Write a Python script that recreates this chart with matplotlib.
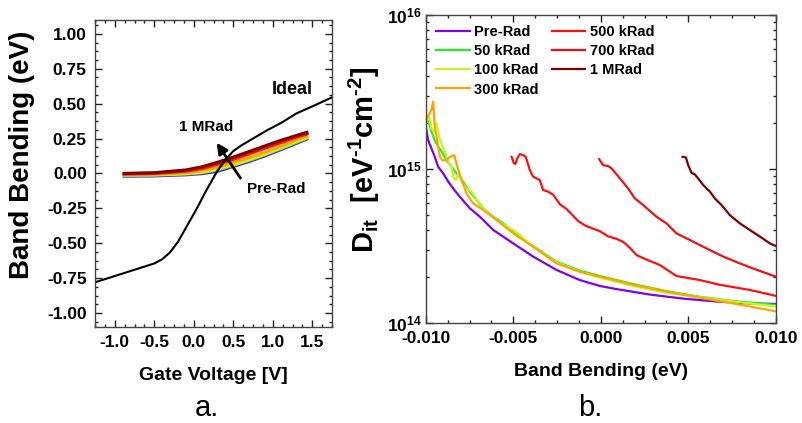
import numpy as np
import matplotlib
matplotlib.use("Agg")
import matplotlib.pyplot as plt
from matplotlib.ticker import MultipleLocator, FixedLocator, FixedFormatter, LogLocator, NullFormatter

plt.rcParams['font.family'] = ['Liberation Sans', 'DejaVu Sans']
plt.rcParams['font.weight'] = 'bold'
plt.rcParams['axes.labelweight'] = 'bold'
plt.rcParams['mathtext.fontset'] = 'custom'
plt.rcParams['mathtext.rm'] = 'Liberation Sans:bold'
plt.rcParams['mathtext.bf'] = 'Liberation Sans:bold'
plt.rcParams['mathtext.default'] = 'bf'

doses = ['Pre-Rad', '50 kRad', '100 kRad', '300 kRad', '500 kRad', '700 kRad', '1 MRad']
colors = ['#8000f0', '#22f022', '#c8f520', '#ffa500', '#ff1010', '#f01010', '#800000']

# --- panel a: band bending vs gate voltage ---
vg = [-0.9, -0.5, -0.1, 0.1, 0.3, 0.5, 0.7, 0.9, 1.1, 1.3, 1.45]
bb = {
    'Pre-Rad':  [-0.020, -0.018, -0.010, -0.002, 0.015, 0.050, 0.085, 0.125, 0.170, 0.215, 0.250],
    '50 kRad':  [-0.015, -0.013, -0.005, 0.005, 0.025, 0.058, 0.093, 0.133, 0.177, 0.222, 0.256],
    '100 kRad': [-0.012, -0.010, -0.002, 0.008, 0.030, 0.063, 0.098, 0.138, 0.182, 0.228, 0.262],
    '300 kRad': [-0.008, -0.005, 0.005, 0.020, 0.045, 0.078, 0.113, 0.152, 0.195, 0.240, 0.272],
    '500 kRad': [-0.004, -0.001, 0.015, 0.035, 0.065, 0.100, 0.140, 0.180, 0.220, 0.260, 0.285],
    '700 kRad': [-0.002, 0.002, 0.020, 0.040, 0.072, 0.108, 0.148, 0.188, 0.228, 0.265, 0.290],
    '1 MRad':   [0.000, 0.005, 0.025, 0.047, 0.080, 0.117, 0.157, 0.197, 0.237, 0.272, 0.298],
}
vg_ideal = [-1.25, -1.0, -0.75, -0.5, -0.4, -0.3, -0.2, -0.1, 0.04, 0.15, 0.3, 0.42, 0.5,
            0.6, 0.75, 0.93, 1.1, 1.3, 1.5, 1.75]
bb_ideal = [-0.78, -0.735, -0.69, -0.645, -0.615, -0.565, -0.49, -0.39, -0.25, -0.13, 0.02,
            0.11, 0.16, 0.2, 0.25, 0.31, 0.36, 0.43, 0.48, 0.545]

# --- panel b: interface trap density vs band bending ---
x_pre = [-0.0100, -0.00987, -0.00968, -0.00949, -0.00930, -0.00901, -0.00872, -0.00844, -0.00806,
         -0.00749, -0.00691, -0.00615, -0.00501, -0.00387, -0.00253, -0.00120, -0.00006, 0.00090,
         0.00280, 0.00470, 0.00661, 0.00851, 0.0100]
d_pre = [1.88e15, 1.54e15, 1.36e15, 1.20e15, 1.035e15, 9.37e14, 8.28e14, 7.48e14, 6.61e14,
         5.56e14, 4.90e14, 4.02e14, 3.29e14, 2.70e14, 2.21e14, 1.90e14, 1.74e14, 1.66e14,
         1.53e14, 1.44e14, 1.38e14, 1.34e14, 1.33e14]

x_50 = [-0.0100, -0.00987, -0.00968, -0.00949, -0.00930, -0.00910, -0.00882, -0.00853, -0.00825,
        -0.00787, -0.00749, -0.00710, -0.00672, -0.00615, -0.00558, -0.00501, -0.00387, -0.00253,
        -0.00120, -0.00006, 0.00185, 0.00375, 0.00566, 0.00756, 0.0100]
d_50 = [2.24e15, 2.08e15, 1.75e15, 1.54e15, 1.40e15, 1.30e15, 1.14e15, 1.035e15, 9.37e14,
        8.28e14, 7.13e14, 6.29e14, 5.56e14, 4.90e14, 4.44e14, 3.92e14, 3.16e14, 2.50e14,
        2.19e14, 2.02e14, 1.79e14, 1.61e14, 1.48e14, 1.39e14, 1.31e14]

x_100 = [-0.0100, -0.00981, -0.00968, -0.00954, -0.00939, -0.00924, -0.00905, -0.00891, -0.00882,
         -0.00867, -0.00853, -0.00844, -0.00829, -0.00815, -0.00796, -0.00768, -0.00739, -0.00720,
         -0.00691, -0.00653, -0.00596, -0.00539, -0.00501, -0.00463, -0.00387, -0.00253, -0.00120,
         -0.00006, 0.00185, 0.00375, 0.00566, 0.00756, 0.0100]
d_100 = [2.03e15, 2.19e15, 1.84e15, 1.75e15, 1.98e15, 1.62e15, 1.40e15, 1.30e15, 1.20e15,
         1.09e15, 1.035e15, 8.91e14, 8.49e14, 9.37e14, 8.28e14, 7.48e14, 7.13e14, 6.61e14,
         5.83e14, 5.28e14, 4.67e14, 4.23e14, 4.02e14, 3.73e14, 3.13e14, 2.47e14, 2.15e14,
         1.97e14, 1.74e14, 1.57e14, 1.47e14, 1.38e14, 1.28e14]

x_300 = [-0.0100, -0.00968, -0.00958, -0.00949, -0.00935, -0.00920, -0.00905, -0.00882, -0.00863,
         -0.00838, -0.00815, -0.00768, -0.00730, -0.00672, -0.00596, -0.00501, -0.00387, -0.00253,
         -0.00120, -0.00006, 0.00185, 0.00375, 0.00566, 0.00756, 0.0100]
d_300 = [2.08e15, 2.42e15, 2.74e15, 1.88e15, 1.54e15, 1.20e15, 1.14e15, 1.14e15, 1.20e15,
         1.23e15, 9.86e14, 6.95e14, 5.98e14, 5.42e14, 4.67e14, 3.82e14, 3.13e14, 2.44e14,
         2.15e14, 2.00e14, 1.77e14, 1.60e14, 1.46e14, 1.34e14, 1.19e14]

x_500 = [-0.00510, -0.00497, -0.00488, -0.00478, -0.00463, -0.00444, -0.00429, -0.00406, -0.00387,
         -0.00349, -0.00330, -0.00301, -0.00272, -0.00234, -0.00196, -0.00168, -0.00130, -0.00091,
         -0.00044, -0.00006, 0.00042, 0.00090, 0.00128, 0.00166, 0.00204, 0.00261, 0.00337,
         0.00432, 0.00566, 0.00680, 0.00851, 0.0100]
d_500 = [1.20e15, 1.09e15, 1.08e15, 1.17e15, 1.25e15, 1.23e15, 1.20e15, 9.86e14, 8.91e14,
         8.49e14, 7.31e14, 7.13e14, 6.80e14, 5.90e14, 5.50e14, 5.10e14, 4.60e14, 4.30e14,
         4.10e14, 3.95e14, 3.65e14, 3.52e14, 3.36e14, 3.08e14, 2.76e14, 2.58e14, 2.38e14,
         2.02e14, 1.90e14, 1.77e14, 1.64e14, 1.50e14]

x_700 = [-0.00010, 0.00013, 0.00042, 0.00061, 0.00109, 0.00156, 0.00194, 0.00242, 0.00318,
         0.00375, 0.00432, 0.00509, 0.00604, 0.00699, 0.00794, 0.00870, 0.0100]
d_700 = [1.16e15, 1.06e15, 1.045e15, 1.01e15, 8.69e14, 7.48e14, 6.45e14, 5.83e14, 4.90e14,
         4.44e14, 3.82e14, 3.46e14, 3.05e14, 2.70e14, 2.44e14, 2.26e14, 2.00e14]

x_1m = [0.00467, 0.00486, 0.00499, 0.00518, 0.00537, 0.00556, 0.00585, 0.00623, 0.00651,
        0.00690, 0.00737, 0.00794, 0.00851, 0.00909, 0.00966, 0.0100]
d_1m = [1.20e15, 1.19e15, 1.06e15, 9.46e14, 9.23e14, 8.69e14, 7.87e14, 7.13e14, 6.45e14,
        5.83e14, 5.02e14, 4.44e14, 4.02e14, 3.64e14, 3.29e14, 3.16e14]

dit_x = [x_pre, x_50, x_100, x_300, x_500, x_700, x_1m]
dit_y = [d_pre, d_50, d_100, d_300, d_500, d_700, d_1m]


def style_axes(ax):
    ax.tick_params(which='both', direction='in', top=True, right=True, labelsize=12.5,
                   width=1, colors='#222222', labelcolor='black')
    ax.tick_params(which='major', length=5, pad=6)
    ax.tick_params(which='minor', length=2.5)
    for sp in ax.spines.values():
        sp.set_color('#444444')
        sp.set_linewidth(1.0)


fig = plt.figure(figsize=(8.02, 4.23), dpi=100)

ax1 = fig.add_axes([0.1185, 0.227, 0.2955, 0.726])
for name, c in zip(doses, colors):
    ax1.plot(vg, bb[name], color=c, lw=2.2, solid_capstyle='butt')
ax1.plot(vg_ideal, bb_ideal, color='black', lw=1.5)
ax1.annotate('', xy=(0.27, 0.236), xytext=(0.61, -0.05),
             arrowprops=dict(arrowstyle='-|>', color='black', lw=2, mutation_scale=16))
ax1.text(0.16, 0.33, '1 MRad', fontsize=11, ha='center', va='center')
ax1.text(1.05, -0.115, 'Pre-Rad', fontsize=11, ha='center', va='center')
ax1.text(1.25, 0.60, 'Ideal', fontsize=13, ha='center', va='center')
ax1.set_xlim(-1.25, 1.75)
ax1.set_ylim(-1.1, 1.1)
ax1.xaxis.set_minor_locator(MultipleLocator(0.125))
ax1.yaxis.set_minor_locator(MultipleLocator(0.0625))
ax1.set_yticks(np.arange(-1.0, 1.01, 0.25))
ax1.set_yticklabels(['%.2f' % v for v in np.arange(-1.0, 1.01, 0.25)])
ax1.set_xticks(np.arange(-1.0, 1.51, 0.5))
ax1.set_xticklabels(['%.1f' % v for v in np.arange(-1.0, 1.51, 0.5)])
style_axes(ax1)
ax1.set_xlabel('Gate Voltage [V]', fontsize=14, labelpad=12)
ax1.set_ylabel('Band Bending (eV)', fontsize=20, labelpad=6)
ax1.yaxis.set_label_coords(-0.255, 0.56)

ax2 = fig.add_axes([0.531, 0.2364, 0.4364, 0.728])
for name, c, xs, ys in zip(doses, colors, dit_x, dit_y):
    ax2.plot(xs, ys, color=c, lw=1.6, label=name)
ax2.set_yscale('log')
ax2.set_xlim(-0.010, 0.010)
ax2.set_ylim(1e14, 1e16)
ax2.set_xticks([-0.010, -0.005, 0.0, 0.005, 0.010])
ax2.set_xticklabels(['-0.010', '-0.005', '0.000', '0.005', '0.010'])
ax2.xaxis.set_minor_locator(MultipleLocator(0.00125))
ax2.yaxis.set_major_locator(FixedLocator([1e14, 1e15, 1e16]))
ax2.yaxis.set_major_formatter(FixedFormatter([r'$10^{14}$', r'$10^{15}$', r'$10^{16}$']))
ax2.yaxis.set_minor_locator(LogLocator(base=10, subs=np.arange(2, 10)))
ax2.yaxis.set_minor_formatter(NullFormatter())
style_axes(ax2)
ax2.tick_params(axis='y', which='major', pad=3)
ax2.set_xlabel('Band Bending (eV)', fontsize=14, labelpad=12)
ax2.set_ylabel('D$_{it}$  [eV$^{\\text{-}1}$cm$^{\\text{-}2}$]', fontsize=21, labelpad=2)
ax2.yaxis.set_label_coords(-0.125, 0.53)
ax2.legend(loc='upper left', ncol=2, frameon=False, fontsize=10.5, handlelength=2.3,
           handletextpad=0.3, columnspacing=0.9, labelspacing=0.35,
           borderaxespad=0.3)

fig.text(0.258, 0.035, 'a.', fontsize=21, fontweight='normal', ha='center', va='center')
fig.text(0.736, 0.035, 'b.', fontsize=21, fontweight='normal', ha='center', va='center')

fig.savefig('out.png', dpi=100)
